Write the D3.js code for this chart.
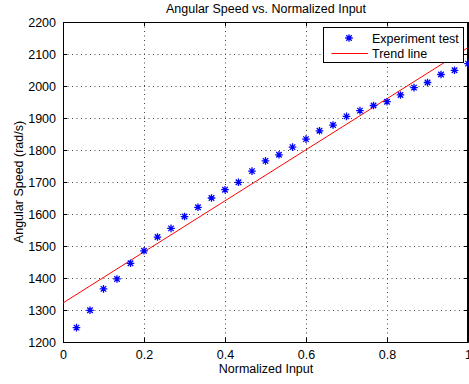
<!DOCTYPE html>
<html>
<head>
<meta charset="utf-8">
<script src="https://cdn.jsdelivr.net/npm/d3@7"></script>
<style>
  body { margin: 0; background: #fff; }
  text { font-family: "Liberation Sans", Arial, sans-serif; }
</style>
</head>
<body>
<div id="myChart"></div>
<script>
// data
const inputs = [0.0333, 0.0667, 0.1, 0.1333, 0.1667, 0.2, 0.2333, 0.2667, 0.3, 0.3333,
  0.3667, 0.4, 0.4333, 0.4667, 0.5, 0.5333, 0.5667, 0.6, 0.6333, 0.6667,
  0.7, 0.7333, 0.7667, 0.8, 0.8333, 0.8667, 0.9, 0.9333, 0.9667, 1.0];
const speeds = [1245, 1299, 1366, 1397, 1446, 1485, 1528, 1555, 1592, 1621,
  1650, 1676, 1699, 1734, 1766, 1785, 1809, 1834, 1860, 1878,
  1905, 1923, 1939, 1951, 1972, 1995, 2011, 2036, 2049, 2070];
const trendX = [0, 1];
const trendY = [1322, 2120];
const xTicks = [0, 0.2, 0.4, 0.6, 0.8, 1];
const yTicks = [1200, 1300, 1400, 1500, 1600, 1700, 1800, 1900, 2000, 2100, 2200];

// set the dimensions and margins of the graph
let margin = {top: 22, right: 1, bottom: 42, left: 63},
    width = 469 - margin.left - margin.right,
    height = 384 - margin.top - margin.bottom;

let svg = d3.select("#myChart")
  .append("svg")
    .attr("width", width + margin.left + margin.right)
    .attr("height", height + margin.top + margin.bottom)
  .append("g")
    .attr("transform", `translate(${margin.left}, ${margin.top})`);

const x = d3.scaleLinear().domain([0, 1]).range([0, width]);
const y = d3.scaleLinear().domain([1200, 2200]).range([height, 0]);

// dotted grid
svg.append("g")
  .selectAll("line")
  .data(xTicks.slice(1, -1))
  .join("line")
    .attr("x1", d => x(d) + 0.5).attr("x2", d => x(d) + 0.5)
    .attr("y1", 0).attr("y2", height)
    .attr("stroke", "#444").attr("stroke-dasharray", "1,3.5");
svg.append("g")
  .selectAll("line")
  .data(yTicks.slice(1, -1))
  .join("line")
    .attr("y1", d => y(d) + 0.5).attr("y2", d => y(d) + 0.5)
    .attr("x1", 0).attr("x2", width)
    .attr("stroke", "#444").attr("stroke-dasharray", "1,3.5");

// axes with inward ticks, box on all sides
const fs = "12.5px";
svg.append("g")
  .attr("transform", `translate(0, ${height})`)
  .call(d3.axisBottom(x).tickValues(xTicks).tickSizeInner(-4).tickSizeOuter(0)
    .tickPadding(8).tickFormat(d3.format("")));
svg.append("g")
  .call(d3.axisLeft(y).tickValues(yTicks).tickSizeInner(-4).tickSizeOuter(0)
    .tickPadding(7).tickFormat(d3.format("d")));
svg.append("g")
  .call(d3.axisTop(x).tickValues(xTicks).tickSizeInner(-4).tickSizeOuter(0).tickFormat(""));
svg.append("g")
  .attr("transform", `translate(${width}, 0)`)
  .call(d3.axisRight(y).tickValues(yTicks).tickSizeInner(-4).tickSizeOuter(0).tickFormat(""));

svg.selectAll(".domain").attr("stroke", "#000");
svg.selectAll(".tick line").attr("stroke", "#000");
svg.selectAll(".tick text").attr("font-size", fs).attr("fill", "#000")
  .attr("font-family", "Liberation Sans, Arial, sans-serif");

svg.append("rect")
  .attr("x", 0.5).attr("y", 0.5)
  .attr("width", width - 1).attr("height", height)
  .attr("fill", "none").attr("stroke", "#000");

// clip
svg.append("clipPath").attr("id", "clip")
  .append("rect").attr("width", width).attr("height", height);

// trend line
svg.append("path")
  .datum(trendX.map((d, i) => [d, trendY[i]]))
  .attr("clip-path", "url(#clip)")
  .attr("fill", "none")
  .attr("stroke", "#ff0000")
  .attr("stroke-width", 1)
  .attr("d", d3.line().x(d => x(d[0])).y(d => y(d[1])));

// asterisk markers
const r = 3.8, k = r * 0.72;
const star = `M${-r},0L${r},0M0,${-r}L0,${r}M${-k},${-k}L${k},${k}M${-k},${k}L${k},${-k}`;
svg.append("g")
  .selectAll("path")
  .data(inputs.map((d, i) => [d, speeds[i]]))
  .join("path")
    .attr("transform", d => `translate(${x(d[0])}, ${y(d[1])})`)
    .attr("d", star)
    .attr("fill", "none")
    .attr("stroke", "#0000ff")
    .attr("stroke-width", 1.3);

// legend
const lg = svg.append("g").attr("transform", `translate(${323 - margin.left}, ${27 - margin.top})`);
lg.append("rect")
  .attr("x", 0.5).attr("y", 0.5).attr("width", 140).attr("height", 35)
  .attr("fill", "#fff").attr("stroke", "#000");
lg.append("path")
  .attr("transform", "translate(26, 11)")
  .attr("d", star).attr("fill", "none").attr("stroke", "#0000ff").attr("stroke-width", 1.3);
lg.append("line")
  .attr("x1", 8.5).attr("x2", 45).attr("y1", 26.5).attr("y2", 26.5)
  .attr("stroke", "#ff0000");
lg.append("text").attr("x", 49).attr("y", 16).attr("font-size", fs).text("Experiment test");
lg.append("text").attr("x", 49).attr("y", 31).attr("font-size", fs).text("Trend line");

// title and axis labels
svg.append("text")
  .attr("x", 266 - margin.left).attr("y", 13 - margin.top)
  .attr("text-anchor", "middle").attr("font-size", fs)
  .text("Angular Speed vs. Normalized Input");
svg.append("text")
  .attr("x", 266 - margin.left).attr("y", 373 - margin.top)
  .attr("text-anchor", "middle").attr("font-size", fs)
  .text("Normalized Input");
svg.append("text")
  .attr("transform", `translate(${23 - margin.left}, ${height / 2}) rotate(-90)`)
  .attr("text-anchor", "middle").attr("font-size", fs)
  .text("Angular Speed (rad/s)");
</script>
</body>
</html>
